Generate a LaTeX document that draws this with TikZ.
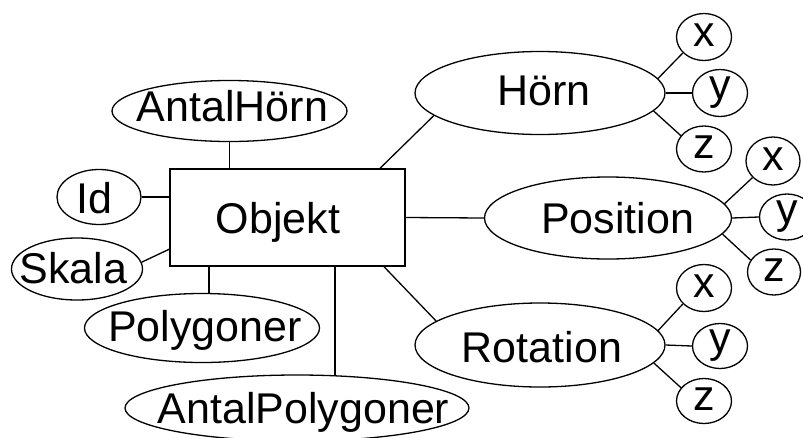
\documentclass[tikz,border=0pt]{standalone}
\usepackage{fontspec}
\setmainfont{Liberation Sans}
\usetikzlibrary{shapes.geometric,backgrounds}
% text placed at (dx,raise) from the node centre without affecting node size
\newcommand\tx[3]{\smash{\makebox[0pt]{\hspace*{#1}\raisebox{#2}{#3}\hspace*{-#1}}}}
\begin{document}
\begin{tikzpicture}[x=1pt,y=-1pt,
  attr/.style={ellipse,draw,line width=1.3pt,inner sep=0pt,fill=white,font=\fontsize{43}{43}\selectfont},
  ent/.style={rectangle,draw,line width=1.3pt,inner sep=0pt,fill=white,font=\fontsize{43}{43}\selectfont},
  conn/.style={line width=1.3pt}]
\useasboundingbox (0,0) rectangle (803,437);
\clip (0,0) rectangle (803,437);
\node[ent,minimum width=235pt,minimum height=97pt] (obj) at (287.5,217.5) {\tx{-9.5pt}{-15.9pt}{Objekt}};
\node[attr,minimum width=235pt,minimum height=61pt] (ah) at (229.5,111) {\tx{3pt}{-10.9pt}{AntalHörn}};
\node[attr,minimum width=84pt,minimum height=55pt] (id) at (99,197) {\tx{-4.5pt}{-16.4pt}{Id}};
\node[attr,minimum width=131pt,minimum height=62pt] (sk) at (77,269) {\tx{-3.5pt}{-14.4pt}{Skala}};
\node[attr,minimum width=235pt,minimum height=69pt] (pol) at (202,328) {\tx{3pt}{-13.4pt}{Polygoner}};
\node[attr,minimum width=344pt,minimum height=66pt] (ap) at (297,408) {\tx{6.5pt}{-15.4pt}{AntalPolygoner}};
\node[attr,minimum width=250pt,minimum height=83pt] (hr) at (540,93) {\tx{4pt}{-12.4pt}{Hörn}};
\node[attr,minimum width=247pt,minimum height=82pt] (pos) at (608,218) {\tx{9.5pt}{-15.4pt}{Position}};
\node[attr,minimum width=250pt,minimum height=84pt] (rot) at (540,345) {\tx{2pt}{-17.9pt}{Rotation}};
\node[attr,minimum width=55pt,minimum height=47pt] (hx) at (704,37) {\tx{0pt}{-9.2pt}{x}};
\node[attr,minimum width=55pt,minimum height=47pt] (hy) at (720,93) {\tx{0pt}{-6.6pt}{y}};
\node[attr,minimum width=55pt,minimum height=46pt] (hz) at (704,149) {\tx{0pt}{-9.2pt}{z}};
\node[attr,minimum width=54pt,minimum height=48pt] (px) at (773,161) {\tx{0pt}{-9.2pt}{x}};
\node[attr,minimum width=55pt,minimum height=46pt] (py) at (787,217) {\tx{0pt}{-6.6pt}{y}};
\node[attr,minimum width=53pt,minimum height=46pt] (pz) at (774,272) {\tx{0pt}{-9.2pt}{z}};
\node[attr,minimum width=55pt,minimum height=47pt] (rx) at (704,288) {\tx{0pt}{-9.2pt}{x}};
\node[attr,minimum width=55pt,minimum height=45pt] (ry) at (720,346) {\tx{0pt}{-6.6pt}{y}};
\node[attr,minimum width=55pt,minimum height=45pt] (rz) at (704,401) {\tx{0pt}{-9.2pt}{z}};
\begin{scope}[on background layer]
\draw[conn] (ah) -- (ah |- obj.north);
\draw[conn] (id) -- (id -| obj.west);
\draw[conn] (sk.6) -- (obj.195.5);
\draw[conn] (obj.south -| pol.north) ++(7,0) coordinate (pl) -- (pl |- pol.north) -- ++(0,10);
\draw[conn] (obj.-46.8) -- (obj.-46.8 |- ap.center);
\draw[conn] (obj.28.2) -- (hr.192);
\draw[conn] (obj.east) -- (pos.west);
\draw[conn] (obj.-27.7) -- (rot.167.6);
\draw[conn] (hr.7.3) -- (hx.217);
\draw[conn] (hr.east) -- (hy.west);
\draw[conn] (hr.-9.4) -- (hz.150);
\draw[conn] (pos.7.7) -- (px.219);
\draw[conn] (pos.east) -- (py.west);
\draw[conn] (pos.-8.3) -- (pz.153);
\draw[conn] (rot.7.3) -- (rx.217);
\draw[conn] (rot.east) -- (ry.west);
\draw[conn] (rot.-9.4) -- (rz.150);
\end{scope}
\end{tikzpicture}
\end{document}
